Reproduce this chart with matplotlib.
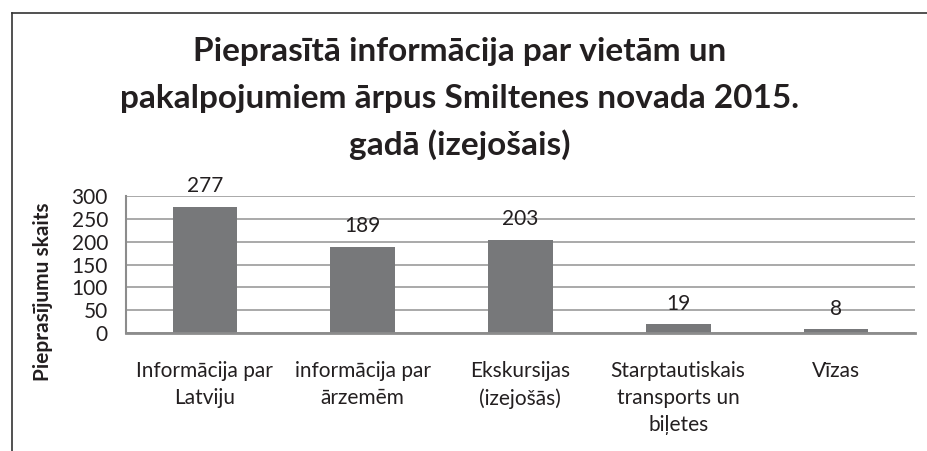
import matplotlib
matplotlib.use("Agg")
import matplotlib.pyplot as plt
from matplotlib.lines import Line2D

plt.rcParams['font.family'] = ['Lato', 'DejaVu Sans']

title_lines = ["Pieprasītā informācija par vietām un",
               "pakalpojumiem ārpus Smiltenes novada 2015.",
               "gadā (izejošais)"]
categories = ["Informācija par\nLatviju", "informācija par\nārzemēm",
              "Ekskursijas\n(izejošās)", "Starptautiskais\ntransports un\nbiļetes",
              "Vīzas"]
values = [277, 189, 203, 19, 8]
yticks = [0, 50, 100, 150, 200, 250, 300]

txt = "#231f20"
fig = plt.figure(figsize=(9.28, 4.51), dpi=100)
ax = fig.add_axes([0.1358, 0.2616, 0.850, 0.3038])

x = range(len(values))
ax.bar(x, values, width=0.41, color="#77787a", zorder=2)
ax.set_xlim(-0.5, len(values) - 0.5)
ax.set_ylim(0, 300)
ax.set_yticks(yticks)
ax.yaxis.grid(True, color="#a3a3a3", linewidth=1.3, zorder=0)
ax.set_axisbelow(True)
for s in ["top", "right"]:
    ax.spines[s].set_visible(False)
ax.spines["left"].set_color("#8c8c8c")
ax.spines["left"].set_linewidth(1.5)
ax.spines["bottom"].set_color("#8c8c8c")
ax.spines["bottom"].set_linewidth(2)
ax.tick_params(axis="both", length=0, labelsize=15, colors=txt)
ax.tick_params(axis="y", pad=13)
ax.set_xticks(list(x))
ax.set_xticklabels(categories, linespacing=1.45, va="top")
ax.tick_params(axis="x", pad=20)

for xi, v in zip(x, values):
    ax.annotate(str(v), (xi, v), xytext=(0, 15), textcoords="offset points",
                ha="center", va="center", fontsize=15, color=txt)

fig.text(0.046, 1 - 292 / 451, "Pieprasījumu skaits", rotation=90,
         ha="center", va="center", fontsize=15, fontweight="bold", color=txt)

for i, line in enumerate(title_lines):
    fig.text(0.495, 1 - (52 + 46.5 * i) / 451, line, ha="center", va="center",
             fontsize=24, fontweight="bold", color=txt)

# border of the chart area (cropped on right and bottom)
fig.add_artist(Line2D([12 / 928, 1], [1 - 13 / 451] * 2, color="#333333", lw=1.2))
fig.add_artist(Line2D([12 / 928] * 2, [0, 1 - 13 / 451], color="#333333", lw=1.2))

fig.savefig("out.png", dpi=100)
